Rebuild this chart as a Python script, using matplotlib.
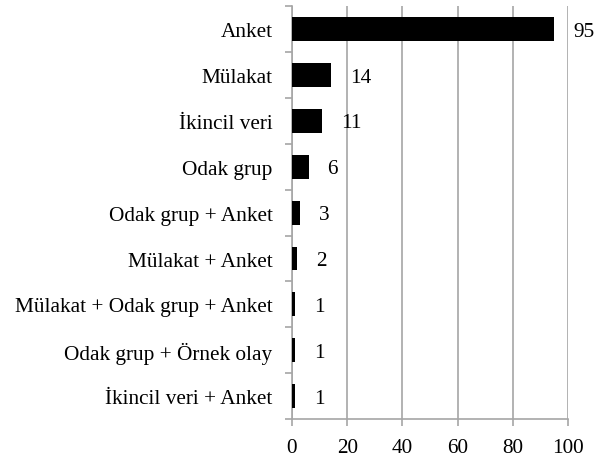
import matplotlib
matplotlib.use("Agg")
import matplotlib.pyplot as plt
import numpy as np

categories = ["Anket", "Mülakat", "İkincil veri", "Odak grup", "Odak grup + Anket",
              "Mülakat + Anket", "Mülakat + Odak grup + Anket", "Odak grup + Örnek olay",
              "İkincil veri + Anket"]
values = [95, 14, 11, 6, 3, 2, 1, 1, 1]
xticks = [0, 20, 40, 60, 80, 100]

plt.rcParams['font.family'] = ['Liberation Serif', 'DejaVu Serif']
fs = 15.3
fig = plt.figure(figsize=(6.04, 4.60), dpi=100)
ax = fig.add_axes([0.4834, 0.087, 0.457, 0.897])

n = len(categories)
y = np.arange(n)
ax.barh(y, values, height=0.52, color='black', zorder=3)
ax.set_ylim(n - 0.5, -0.5)
ax.set_xlim(0, 100)

gray = '#a6a6a6'
ax.set_xticks(xticks)
ax.set_xticklabels([str(t) for t in xticks], fontsize=fs)
ax.xaxis.grid(True, color=gray, linewidth=1.2, zorder=0)
ax.set_yticks(y)
ax.set_yticklabels(categories, fontsize=fs)
ax.tick_params(axis='y', which='major', length=0, pad=14)
ax.set_yticks(np.arange(n + 1) - 0.5, minor=True)
ax.tick_params(axis='y', which='minor', length=5, color=gray, width=1.2)
ax.tick_params(axis='x', length=5, color=gray, width=1.2, pad=9)

for s in ['top', 'right']:
    ax.spines[s].set_visible(False)
for s in ['left', 'bottom']:
    ax.spines[s].set_color(gray)
    ax.spines[s].set_linewidth(1.2)

for yi, v in zip(y, values):
    ax.annotate(str(v), (v, yi), xytext=(19, -2), textcoords='offset pixels',
                va='center', ha='left', fontsize=fs)

fig.savefig('out.png', dpi=100)
